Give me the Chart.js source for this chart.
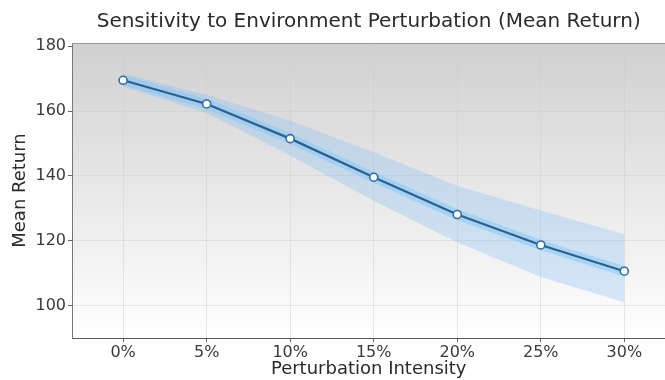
<!DOCTYPE html>
<html>
<head>
<meta charset="utf-8">
<script src="https://cdn.jsdelivr.net/npm/chart.js@4/dist/chart.umd.min.js"></script>
<style>
  html, body { margin: 0; padding: 0; background: #ffffff; overflow: hidden; }
  #wrap { width: 665px; height: 380px; position: relative; overflow: hidden; }
</style>
</head>
<body>
<div id="wrap"><canvas id="c" width="671" height="380"></canvas></div>
<script>
// ---- data ----
const intensities = [0, 5, 10, 15, 20, 25, 30];            // perturbation intensity (%)
const meanReturn  = [169.5, 162.2, 151.5, 139.6, 128.1, 118.7, 110.6];
const upperBand   = [171.5, 165.0, 157.0, 147.3, 137.0, 129.3, 122.0];
const lowerBand   = [167.6, 159.4, 146.3, 132.3, 119.5, 108.8, 101.0];
const yTickValues = [100, 120, 140, 160, 180];
const xTickLabels = ['0%', '5%', '10%', '15%', '20%', '25%', '30%'];

const pts = arr => intensities.map((x, i) => ({ x: x, y: arr[i] }));

const bgPlugin = {
  id: 'bg',
  beforeDraw(chart) {
    const { ctx, chartArea: a } = chart;
    const g = ctx.createLinearGradient(0, a.top, 0, a.bottom);
    g.addColorStop(0, '#d0d0d0');
    g.addColorStop(0.5, '#e8e8e8');
    g.addColorStop(1, '#ffffff');
    ctx.save();
    ctx.fillStyle = g;
    ctx.fillRect(a.left, a.top, a.right - a.left, a.bottom - a.top);
    ctx.restore();
  },
  afterDraw(chart) {
    const { ctx, chartArea: a } = chart;
    ctx.save();
    ctx.strokeStyle = '#9a9a9a';
    ctx.lineWidth = 1;
    ctx.beginPath();
    ctx.moveTo(a.left, a.top + 0.5);
    ctx.lineTo(a.right, a.top + 0.5);
    ctx.stroke();
    ctx.restore();
  }
};

const FONT = 'DejaVu Sans';

new Chart(document.getElementById('c'), {
  type: 'line',
  data: {
    datasets: [
      { order: 0, data: pts(meanReturn), borderColor: '#2c5f8c', borderWidth: 2.2, fill: false,
        pointRadius: 4, pointBackgroundColor: '#ffffff', pointBorderColor: '#2f6f9f', pointBorderWidth: 1.6 },
      { order: 1, data: pts(meanReturn), borderColor: 'rgba(130,200,250,0.5)', borderWidth: 10, pointRadius: 0, fill: false },
      { order: 3, data: pts(upperBand), borderWidth: 0, pointRadius: 0, fill: false, borderColor: 'rgba(0,0,0,0)' },
      { order: 2, data: pts(lowerBand), borderWidth: 0, pointRadius: 0, fill: '-1', borderColor: 'rgba(0,0,0,0)',
        backgroundColor: 'rgba(125,190,245,0.30)' }
    ]
  },
  options: {
    responsive: false,
    animation: false,
    layout: { padding: { left: 10, right: 0, top: 0, bottom: 0 } },
    plugins: {
      legend: { display: false },
      tooltip: { enabled: false },
      title: {
        display: true,
        text: 'Sensitivity to Environment Perturbation (Mean Return)',
        fullSize: false,
        color: '#2a2a2a',
        font: { family: FONT, size: 20, weight: 'normal' },
        padding: { top: 10, bottom: 9 }
      }
    },
    scales: {
      x: {
        type: 'linear',
        min: -3.06,
        max: 32.46,
        afterBuildTicks(s) { s.ticks = intensities.map(v => ({ value: v })); },
        afterFit(s) { s.height = 42; s.paddingLeft = 0; s.paddingRight = 0; },
        ticks: {
          color: '#3a3a3a',
          font: { family: FONT, size: 16 },
          padding: 1,
          callback: (v) => { const i = intensities.indexOf(v); return i >= 0 ? xTickLabels[i] : ''; }
        },
        grid: { color: 'rgba(205,205,205,0.45)', tickColor: '#666', tickLength: 4, drawTicks: true },
        border: { display: true, color: '#555', width: 1 },
        title: { display: true, text: 'Perturbation Intensity', color: '#2a2a2a',
                 font: { family: FONT, size: 18 }, padding: { top: -3, bottom: 0 } }
      },
      y: {
        min: 90,
        max: 181,
        afterBuildTicks(s) { s.ticks = yTickValues.map(v => ({ value: v })); },
        afterFit(s) { s.width = 62; s.paddingTop = 0; s.paddingBottom = 0; },
        ticks: { color: '#3a3a3a', font: { family: FONT, size: 16 }, padding: 2 },
        grid: { color: 'rgba(205,205,205,0.45)', tickColor: '#666', tickLength: 4, drawTicks: true },
        border: { display: true, color: '#777', width: 1 },
        title: { display: true, text: 'Mean Return', color: '#2a2a2a',
                 font: { family: FONT, size: 18 }, padding: { top: 0, bottom: 0 } }
      }
    }
  },
  plugins: [bgPlugin]
});
</script>
</body>
</html>
